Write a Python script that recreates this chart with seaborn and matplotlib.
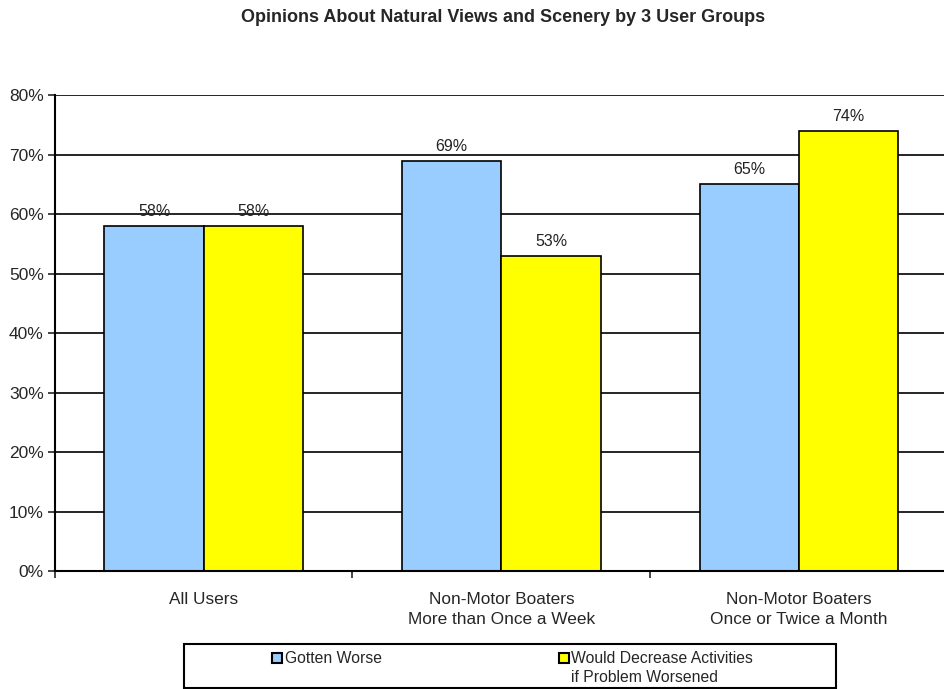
import matplotlib
matplotlib.use("Agg")
import matplotlib.pyplot as plt
import numpy as np
import pandas as pd
import seaborn as sns

groups = ['All Users', 'Non-Motor Boaters\nMore than Once a Week', 'Non-Motor Boaters\nOnce or Twice a Month']
series = ['Gotten Worse', 'Would Decrease Activities\nif Problem Worsened']
gotten_worse = [58, 69, 65]
would_decrease = [58, 53, 74]
colors = ['#99CCFF', '#FFFF00']

df = pd.DataFrame({
    'group': groups * 2,
    'series': [series[0]] * 3 + [series[1]] * 3,
    'value': gotten_worse + would_decrease,
})

sns.set_style('white')
plt.rcParams['font.family'] = ['Liberation Sans', 'DejaVu Sans']

fig = plt.figure(figsize=(9.45, 6.89), dpi=100)
ax = fig.add_axes([0.058, 0.171, 0.945, 0.691])

sns.barplot(data=df, x='group', y='value', hue='series', palette=colors, saturation=1,
            width=0.667, edgecolor='black', linewidth=1.2, ax=ax, legend=False)

for cont in ax.containers:
    ax.bar_label(cont, labels=[f'{v:.0f}%' for v in cont.datavalues],
                 padding=5, fontsize=11.5, color='#222222')

ax.set_ylim(0, 80)
ax.set_xlim(-0.5, 2.5)
ax.set_yticks(np.arange(0, 81, 10))
ax.set_yticklabels([f'{t}%' for t in range(0, 81, 10)], fontsize=12.5)
ax.yaxis.grid(True, color='black', linewidth=1.2)
ax.set_axisbelow(True)
ax.tick_params(axis='y', direction='out', length=5, width=1.2, left=True, pad=3)
ax.tick_params(axis='x', which='major', length=0, labelsize=12.4, pad=15)
ax.set_xticks([-0.5, 0.5, 1.5, 2.5], minor=True)
ax.tick_params(axis='x', which='minor', direction='out', length=5, width=1.2, bottom=True)
for lbl in ax.get_xticklabels():
    lbl.set_linespacing(1.45)
ax.set_xlabel('')
ax.set_ylabel('')
for side in ['top', 'right']:
    ax.spines[side].set_visible(False)
for side in ['left', 'bottom']:
    ax.spines[side].set_color('black')
    ax.spines[side].set_linewidth(1.5)

fig.suptitle('Opinions About Natural Views and Scenery by 3 User Groups',
             x=0.532, y=0.987, fontsize=13, fontweight='bold')

# legend box drawn by hand to match the two-column layout
W, H = 945.0, 689.0
fig.patches.append(plt.Rectangle((184 / W, 1 / H), 652 / W, 44 / H, transform=fig.transFigure,
                                 facecolor='white', edgecolor='black', linewidth=1.5))
for (hx, tx), c, s in zip([(272, 285), (559, 571)], colors, series):
    fig.patches.append(plt.Rectangle((hx / W, 1 - 663 / H), 10 / W, 10 / H, transform=fig.transFigure,
                                     facecolor=c, edgecolor='black', linewidth=1.5))
    fig.text(tx / W, 1 - 651 / H, s, ha='left', va='top', fontsize=11.3, linespacing=1.35)

fig.savefig('out.png', dpi=100)
